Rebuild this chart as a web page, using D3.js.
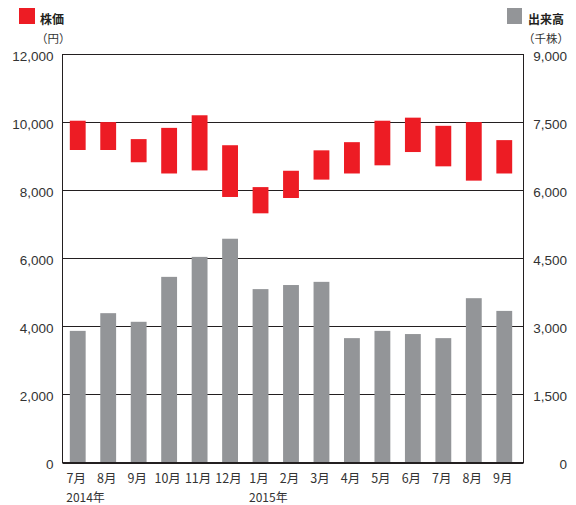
<!DOCTYPE html>
<html>
<head>
<meta charset="utf-8">
<script src="https://cdn.jsdelivr.net/npm/d3@7"></script>
<style>
html,body{margin:0;padding:0;background:#fff;}
svg{display:block;}
</style>
</head>
<body>
<svg id="chart" width="576" height="505"></svg>
<script>
const months = ["7月","8月","9月","10月","11月","12月","1月","2月","3月","4月","5月","6月","7月","8月","9月"];
const yearLabels = [{index:0, text:"2014年"},{index:6, text:"2015年"}];
const priceHigh = [10040,10000,9500,9830,10200,9320,8090,8570,9170,9410,10040,10130,9890,10000,9470];
const priceLow  = [9180,9180,8820,8490,8580,7800,7320,7770,8310,8490,8730,9120,8700,8280,8490];
const volume    = [2900,3290,3100,4090,4530,4930,3820,3910,3980,2740,2900,2830,2740,3620,3340];
const priceTicks = [0,2000,4000,6000,8000,10000,12000];
const volumeTicks = [0,1500,3000,4500,6000,7500,9000];

const RED = "#ED1C24", GRAY = "#939598", LINE = "#231F20", TXT = "#333333";
const latin = "'Liberation Sans', Arial, sans-serif";
const cjk = "'Noto Sans CJK JP', sans-serif";

const svg = d3.select("#chart");
const m = {left:62.5, right:523.5, top:54, bottom:462.5};

const x = d3.scaleBand().domain(d3.range(months.length)).range([m.left, 519.5]).paddingInner(0.48).paddingOuter(0.24);
const yL = d3.scaleLinear().domain([0,12000]).range([m.bottom, m.top]);
const yR = d3.scaleLinear().domain([0,9000]).range([m.bottom, m.top]);

// gridlines
svg.append("g").selectAll("line").data(priceTicks).join("line")
  .attr("x1", m.left).attr("x2", m.right)
  .attr("y1", d => Math.round(yL(d)) + 0.5).attr("y2", d => Math.round(yL(d)) + 0.5)
  .attr("stroke", LINE).attr("stroke-width", 1);

// volume bars
svg.append("g").selectAll("rect").data(volume).join("rect")
  .attr("x", (d,i) => x(i)).attr("width", x.bandwidth())
  .attr("y", d => yR(d)).attr("height", d => yR(0) - yR(d))
  .attr("fill", GRAY);

// price range bars
svg.append("g").selectAll("rect").data(priceHigh).join("rect")
  .attr("x", (d,i) => x(i)).attr("width", x.bandwidth())
  .attr("y", d => yL(d)).attr("height", (d,i) => yL(priceLow[i]) - yL(d))
  .attr("fill", RED);

// frame
svg.append("rect").attr("x", m.left).attr("y", Math.round(m.top)+0.5)
  .attr("width", m.right - m.left).attr("height", m.bottom - m.top - 0.5)
  .attr("fill", "none").attr("stroke", LINE).attr("stroke-width", 1);

// left axis labels
const axL = svg.append("g").attr("transform", `translate(${m.left},2)`)
  .call(d3.axisLeft(yL).tickValues(priceTicks).tickSize(0).tickPadding(9).tickFormat(d3.format(",")));
axL.select(".domain").remove();
axL.selectAll("text").attr("font-family", latin).attr("font-size", 13.5).attr("fill", TXT);

// right axis labels
const axR = svg.append("g").attr("transform", `translate(${m.right},2)`)
  .call(d3.axisRight(yR).tickValues(volumeTicks).tickSize(0).tickPadding(9).tickFormat(d3.format(",")));
axR.select(".domain").remove();
axR.selectAll("text").attr("font-family", latin).attr("font-size", 13.5).attr("fill", TXT)
  .attr("text-anchor", "end").attr("x", 567 - m.right);

// x labels
const labelX = i => x(i) + x.bandwidth()/2 - 1.5;
svg.append("g").selectAll("text").data(months).join("text")
  .attr("x", (d,i) => labelX(i)).attr("y", 482.5)
  .attr("text-anchor", "middle").attr("font-family", cjk).attr("font-size", 12.5).attr("fill", TXT)
  .text(d => d);
svg.append("g").selectAll("text").data(yearLabels).join("text")
  .attr("x", d => labelX(d.index) - 10).attr("y", 501.5)
  .attr("font-family", cjk).attr("font-size", 12).attr("fill", TXT)
  .text(d => d.text);

// legends
svg.append("rect").attr("x", 19).attr("y", 8).attr("width", 16).attr("height", 16).attr("fill", RED);
svg.append("text").attr("x", 40).attr("y", 23.5).attr("font-family", cjk).attr("font-weight", "bold")
  .attr("font-size", 12).attr("fill", "#231F20").text("株価");
svg.append("text").attr("x", 36).attr("y", 43).attr("font-family", cjk)
  .attr("font-size", 11.5).attr("fill", TXT).text("（円）");

svg.append("rect").attr("x", 507).attr("y", 8).attr("width", 15).attr("height", 16).attr("fill", GRAY);
svg.append("text").attr("x", 528).attr("y", 23.5).attr("font-family", cjk).attr("font-weight", "bold")
  .attr("font-size", 12).attr("fill", "#231F20").text("出来高");
svg.append("text").attr("x", 569).attr("y", 43).attr("text-anchor", "end").attr("font-family", cjk)
  .attr("font-size", 11.5).attr("fill", TXT).text("（千株）");
</script>
</body>
</html>
